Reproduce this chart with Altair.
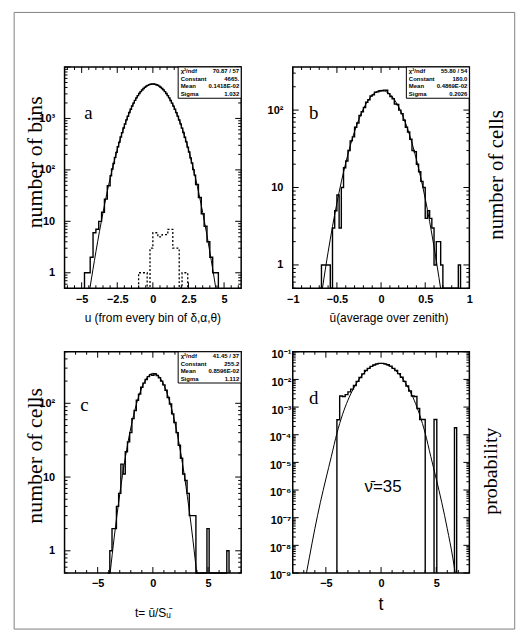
import math
import altair as alt
import pandas as pd

W, H = 178, 223
SANS = "Liberation Sans"
SERIF = "Liberation Serif"
DUMMY = pd.DataFrame({"k": [0]})

# ---------------- panel a ----------------
# left tail: 0.2 wide bins from -4.8 to -3.0
A_LEFT_START, A_LEFT_BIN = -4.8, 0.2
A_LEFT_COUNTS = [1, 1, 2, 6, 7, 10, 15, 27, 49]
# core: 0.1 wide bins from -3.0 to 3.0
A_CORE_START, A_CORE_BIN = -3.0, 0.1
A_CORE_COUNTS = [77, 104, 133, 175, 219, 281, 347, 435, 530, 651,
                 781, 937, 1105, 1302, 1508, 1742, 1980, 2243, 2505, 2783,
                 3050, 3326, 3580, 3829, 4045, 4245, 4400, 4533, 4614, 4662,
                 4658, 4618, 4528, 4406, 4240, 4049, 3824, 3584, 3321, 3056,
                 2778, 2509, 2238, 1985, 1737, 1512, 1298, 1110, 933, 785,
                 647, 534, 431, 351, 277, 222, 171, 136, 101, 79]
# right tail: 0.2 wide bins from 3.0 to 4.6
A_RIGHT_START, A_RIGHT_BIN = 3.0, 0.2
A_RIGHT_COUNTS = [52, 29, 14, 8, 4, 2, 1, 1]
A_DOT_EDGES = [-1.0, -0.4, -0.2, 0.0, 0.35, 0.65, 1.05, 1.4, 1.85, 2.05, 2.45]
A_DOT_COUNTS = [1, 0, 3, 6, 5, 5.5, 7, 3, 0, 1]
A_FIT_U = [-4.42, -4.0, -3.5, -3.0, -2.5, -2.0, -1.5, -1.0, -0.5, 0.0,
           0.5, 1.0, 1.5, 2.0, 2.5, 3.0, 3.5, 4.0, 4.42]
A_FIT_V = [0.5, 2.55, 14.8, 68.2, 248, 713, 1623, 2917, 4150, 4665,
           4150, 2917, 1623, 713, 248, 68.2, 14.8, 2.55, 0.5]
A_STATS = [("χ²/ndf", "70.87  /  57"), ("Constant", "4665."),
           ("Mean", "0.1418E-02"), ("Sigma", "1.032")]
A_XTICKS = [-5, -2.5, 0, 2.5, 5]
A_YTICKS = [1, 10, 100, 1000]
A_YTEXT = ["1", "10", "10²", "10³"]

# ---------------- panel b ----------------
B_START, B_BIN = -0.7, 0.025
B_COUNTS = [0, 1, 1, 1, 1, 0, 3, 5, 8, 3,
            10, 18, 22, 30, 40, 45, 60, 68, 85, 95,
            108, 126, 136, 152, 158, 170, 172, 176, 178, 181,
            180, 163, 150, 140, 120, 118, 100, 90, 74, 60,
            52, 42, 30, 29, 20, 16, 12, 10, 4, 5,
            4, 3, 1, 2, 2, 1, 0, 0, 0, 0,
            0, 0, 0, 1]
B_FIT_U = [-0.664, -0.6, -0.5, -0.4, -0.3, -0.2, -0.1, 0.0,
           0.1, 0.2, 0.3, 0.4, 0.5, 0.6, 0.674]
B_FIT_V = [0.5, 1.46, 6.3, 20.8, 53.0, 103.6, 155.7, 179.9,
           159.9, 109.2, 57.3, 23.1, 7.2, 1.71, 0.5]
B_STATS = [("χ²/ndf", "55.80  /  54"), ("Constant", "180.0"),
           ("Mean", "0.4869E-02"), ("Sigma", "0.2026")]
B_XTICKS = [-1, -0.5, 0, 0.5, 1]
B_YTICKS = [1, 10, 100]
B_YTEXT = ["1", "10", "10²"]

# ---------------- panel c ----------------
C_START, C_BIN = -4.1, 0.2
C_COUNTS = [0, 1, 2, 2, 4, 6, 15, 11, 22, 30,
            40, 62, 80, 110, 133, 165, 188, 210, 230, 245,
            240, 252, 238, 222, 200, 178, 150, 120, 98, 72,
            55, 40, 27, 18, 11, 9, 6, 3, 3, 3,
            0, 0, 0, 0, 0, 2, 0, 0, 0, 0,
            0, 0, 0, 0, 1]
C_FIT_T = [-3.87, -3.5, -3.0, -2.5, -2.0, -1.5, -1.0, -0.5, 0.0,
           0.5, 1.0, 1.5, 2.0, 2.5, 3.0, 3.5, 3.97]
C_FIT_V = [0.5, 1.53, 5.85, 18.2, 46.3, 96.2, 163, 225.5, 254.7,
           234.9, 176.8, 108.6, 54.5, 22.3, 7.46, 2.04, 0.5]
C_STATS = [("χ²/ndf", "41.45  /  37"), ("Constant", "255.2"),
           ("Mean", "0.8596E-02"), ("Sigma", "1.112")]
C_XTICKS = [-5, 0, 5]
C_YTICKS = [1, 10, 100]
C_YTEXT = ["1", "10", "10²"]

# ---------------- panel d ----------------
D_START, D_BIN = -4.0, 0.25
D_LOGP = [-3.46, -2.6, -2.62, -2.55, -2.45, -2.35, -2.22, -2.07, -1.93, -1.8,
          -1.68, -1.6, -1.53, -1.48, -1.44, -1.42, -1.42, -1.44, -1.47, -1.52,
          -1.6, -1.68, -1.79, -1.92, -2.07, -2.24, -2.42, -2.6, -2.62, -3.05,
          -3.45, -3.45]
D_OUT_LO = [4.8, 6.65]
D_OUT_HI = [5.05, 6.85]
D_OUT_LOGP = [-3.45, -3.75]
D_FIT_T = [-6.76, -6.5, -6.0, -5.5, -5.0, -4.5, -4.0, -3.5, -3.0, -2.5,
           -2.0, -1.5, -1.0, -0.5, 0.0, 0.5, 1.0, 1.5, 2.0, 2.5,
           3.0, 3.5, 4.0, 4.5, 5.0, 5.5, 6.0, 6.5, 6.72]
D_FIT_LOGP = [-9.0, -8.45, -7.4, -6.45, -5.6, -4.78, -3.95, -3.28, -2.75, -2.33,
              -2.0, -1.75, -1.57, -1.46, -1.42, -1.46, -1.57, -1.75, -2.0, -2.33,
              -2.75, -3.28, -3.95, -4.78, -5.6, -6.45, -7.4, -8.45, -9.0]
D_XTICKS = [-5, 0, 5]
D_YTICKS = [1e-9, 1e-8, 1e-7, 1e-6, 1e-5, 1e-4, 1e-3, 1e-2, 1e-1]
D_YTEXT = ["10⁻⁹", "10⁻⁸", "10⁻⁷", "10⁻⁶", "10⁻⁵", "10⁻⁴", "10⁻³", "10⁻²", "10⁻¹"]


# ---------------- helpers ----------------
def grid_edges(start, width, n):
    return [round(start + i * width, 6) for i in range(n + 1)]


def hist_points(edges, values, floor, group=0):
    rows = [{"x": edges[0], "y": floor}]
    for i, v in enumerate(values):
        vv = v if v > 0 else floor
        rows.append({"x": edges[i], "y": vv})
        rows.append({"x": edges[i + 1], "y": vv})
    rows.append({"x": edges[-1], "y": floor})
    for k, r in enumerate(rows):
        r["o"] = k
        r["g"] = group
    return pd.DataFrame(rows)


def lin_ticks(lo, hi, step, exclude=()):
    out = []
    i = math.ceil(lo / step - 1e-9)
    while i * step <= hi + 1e-9:
        v = round(i * step, 6)
        if all(abs(v - e) > 1e-6 for e in exclude):
            out.append(v)
        i += 1
    return out


def log_ticks(lo, hi):
    major, minor = [], []
    for n in range(math.floor(math.log10(lo)) - 1, math.ceil(math.log10(hi)) + 1):
        for k in range(1, 10):
            v = k * 10.0 ** n
            if lo * 0.9999 <= v <= hi * 1.0001:
                (major if k == 1 else minor).append(v)
    return major, minor


def label_expr(values, texts):
    expr = "''"
    for v, t in zip(values, texts):
        e = round(math.log10(v))
        expr = f"(round(log(datum.value)/LN10) == {e}) ? '{t}' : ({expr})"
    return expr


def text(s, x, y, size, font=SANS, weight="normal", align="center", angle=0,
         baseline="middle"):
    kw = dict(text=s, fontSize=size, font=font, fontWeight=weight, align=align,
              baseline=baseline, color="black")
    if angle:
        kw["angle"] = angle
    return alt.Chart(DUMMY).mark_text(**kw).encode(x=alt.value(x), y=alt.value(y))


def stats_box(lines):
    out = [alt.Chart(DUMMY).mark_rect(fill="white", stroke="black", strokeWidth=1).encode(
        x=alt.value(114.5), x2=alt.value(W), y=alt.value(0), y2=alt.value(31.5))]
    for i, (k, v) in enumerate(lines):
        y = 4.4 + i * 7.6
        out.append(text(k, 117, y, 6, weight="bold", align="left"))
        out.append(text(v, W - 2, y, 6, weight="bold", align="right"))
    return out


def panel(xdom, ydom, xlabels, yvals, ytexts, ypad, yoff, hists, fits,
          xmaj, xmin, extras):
    xdef = alt.X("x:Q", scale=alt.Scale(domain=xdom, nice=False, zero=False),
                 axis=alt.Axis(values=xlabels,
                               labelExpr="replace('' + datum.value, '-', '\u2212')",
                               title=None, ticks=False,
                               tickSize=0, domain=False, grid=False, labelFont=SANS,
                               labelFontSize=11, labelFontWeight="bold",
                               labelColor="black", labelPadding=5, labelFlush=False,
                               labelOverlap=False))
    ydef = alt.Y("y:Q", scale=alt.Scale(type="log", domain=ydom, nice=False, clamp=True),
                 axis=alt.Axis(values=yvals, labelExpr=label_expr(yvals, ytexts),
                               title=None, ticks=False, tickSize=0, domain=False,
                               grid=False, labelFont=SANS, labelFontSize=11,
                               labelFontWeight="bold", labelColor="black",
                               labelPadding=ypad, labelOffset=yoff, labelFlush=False,
                               labelOverlap=False))
    layers = []
    for u, v in fits:
        layers.append(alt.Chart(pd.DataFrame({"x": u, "y": v})).mark_line(
            color="black", strokeWidth=1, interpolate="monotone").encode(x=xdef, y=ydef))
    for df, dashed in hists:
        if dashed:
            m = alt.Chart(df).mark_line(color="black", strokeWidth=1.3, strokeDash=[2, 2])
        else:
            m = alt.Chart(df).mark_line(color="black", strokeWidth=1.4)
        layers.append(m.encode(x=xdef, y=ydef, order="o:Q", detail="g:N"))
    ymaj, ymin = log_ticks(ydom[0], ydom[1])
    for vals, L in ((xmaj, 6), (xmin, 3)):
        base = alt.Chart(pd.DataFrame({"x": vals})).mark_rule(color="black", strokeWidth=1)
        layers.append(base.encode(x=xdef, y=alt.value(H), y2=alt.value(H - L)))
        layers.append(base.encode(x=xdef, y=alt.value(0), y2=alt.value(L)))
    for vals, L in ((ymaj, 6), (ymin, 3)):
        base = alt.Chart(pd.DataFrame({"y": vals})).mark_rule(color="black", strokeWidth=1)
        layers.append(base.encode(y=ydef, x=alt.value(0), x2=alt.value(L)))
        layers.append(base.encode(y=ydef, x=alt.value(W), x2=alt.value(W - L)))
    layers.extend(extras)
    return alt.layer(*layers).properties(width=W, height=H)


# ---------------- build panels ----------------
a_edges = (grid_edges(A_LEFT_START, A_LEFT_BIN, len(A_LEFT_COUNTS))
           + grid_edges(A_CORE_START, A_CORE_BIN, len(A_CORE_COUNTS))[1:]
           + grid_edges(A_RIGHT_START, A_RIGHT_BIN, len(A_RIGHT_COUNTS))[1:])
a_hist = hist_points(a_edges, A_LEFT_COUNTS + A_CORE_COUNTS + A_RIGHT_COUNTS, 1e-3)
a_dot = hist_points(A_DOT_EDGES, A_DOT_COUNTS, 1e-3)
frame = alt.Chart(DUMMY).mark_rect(fill="transparent", stroke="#808080", strokeWidth=1).encode(
    x=alt.value(-50.8), x2=alt.value(453.7), y=alt.value(-55), y2=alt.value(566.5))
pa = panel([-6.2, 6.2], [0.5, 10000], A_XTICKS, A_YTICKS, A_YTEXT, 10, 0,
           [(a_hist, False), (a_dot, True)], [(A_FIT_U, A_FIT_V)],
           A_XTICKS, lin_ticks(-6.0, 6.0, 0.5, A_XTICKS),
           [frame] + stats_box(A_STATS) + [
               text("a", 24, 46.5, 19, font=SERIF),
               text("number of bins", -30, 29.5, 22, font=SERIF, align="right", angle=270),
               text("u (from every bin of δ,α,θ)", 89, 253.5, 12),
           ])

b_hist = hist_points(grid_edges(B_START, B_BIN, len(B_COUNTS)), B_COUNTS, 1e-3)
pb = panel([-1, 1], [0.5, 360], B_XTICKS, B_YTICKS, B_YTEXT, 10, 0,
           [(b_hist, False)], [(B_FIT_U, B_FIT_V)],
           B_XTICKS, lin_ticks(-1.0, 1.0, 0.1, B_XTICKS),
           stats_box(B_STATS) + [
               text("b", 21, 46.5, 19, font=SERIF),
               text("number of cells", 206, 43.5, 21, font=SERIF, align="right", angle=270),
               text("ū(average over zenith)", 97, 253.5, 12),
           ])

c_hist = hist_points(grid_edges(C_START, C_BIN, len(C_COUNTS)), C_COUNTS, 1e-3)
pc = panel([-8, 8], [0.5, 500], C_XTICKS, C_YTICKS, C_YTEXT, 10, 0,
           [(c_hist, False)], [(C_FIT_T, C_FIT_V)],
           C_XTICKS, lin_ticks(-8, 8, 1, C_XTICKS),
           stats_box(C_STATS) + [
               text("c", 20, 53.5, 19, font=SERIF),
               text("number of cells", -30, 36.5, 22, font=SERIF, align="right", angle=270),
               text("t= ū/Sᵤ̄", 89, 263.5, 12),
           ])

d_main = hist_points(grid_edges(D_START, D_BIN, len(D_LOGP)), [10 ** e for e in D_LOGP], 1e-12, 0)
d_parts = [d_main]
for i, (lo, hi, e) in enumerate(zip(D_OUT_LO, D_OUT_HI, D_OUT_LOGP)):
    d_parts.append(hist_points([lo, hi], [10 ** e], 1e-12, i + 1))
d_hist = pd.concat(d_parts, ignore_index=True)
pd_ = panel([-8, 8], [1e-9, 1e-1], D_XTICKS, D_YTICKS, D_YTEXT, 2, 3,
            [(d_hist, False)], [(D_FIT_T, [10 ** e for e in D_FIT_LOGP])],
            D_XTICKS, lin_ticks(-8, 8, 1, D_XTICKS),
            [
                text("d", 21, 46.5, 19, font=SERIF),
                text("ν̄=35", 91, 136.5, 17),
                text("probability", 200, 76.5, 20, font=SERIF, align="right", angle=270),
                text("t", 89, 255.5, 18),
            ])

chart = alt.concat(pa, pb, pc, pd_, columns=2, spacing={"row": 64, "column": 52},
                   bounds="flush").properties(
    padding={"left": 4, "top": 0, "right": 0, "bottom": 0},
    background="white",
).configure_view(stroke="black", strokeWidth=1.5)

chart.save("out.html", embed_options={"renderer": "svg", "actions": False})
